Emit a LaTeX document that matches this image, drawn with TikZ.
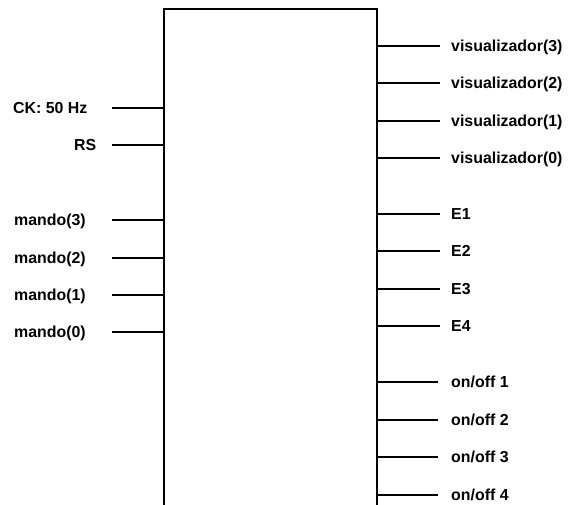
\documentclass[tikz,border=0pt]{standalone}
\usepackage{fontspec}
\setmainfont{Liberation Sans}
\begin{document}
\begin{tikzpicture}[x=1pt,y=-1pt,
  pinlabel/.style={inner sep=0pt, anchor=base west, font=\fontsize{15.9}{18}\selectfont\bfseries},
  pinline/.style={line width=2pt},
  blockbox/.style={draw, line width=2.2pt, inner sep=0pt}]
\useasboundingbox (0,0) rectangle (568,504);
% the block: its lower edge lies below the page
\node[blockbox, minimum width=213pt, minimum height=530pt, anchor=north west] (box) at (163,8) {};

% inputs on the left
\foreach \name/\txt/\tx/\y in {ck/{CK: 50 Hz}/13/107.7, rs/RS/74/145,
    m3/mando(3)/14/220, m2/mando(2)/14/258, m1/mando(1)/14/295, m0/mando(0)/14/332}{
  \node[pinlabel] (\name) at (\tx,\y+5.6) {\txt};
  \coordinate (\name-end) at (112,\y);
  \draw[pinline] (\name-end) -- (\name-end -| box.west);
}

% outputs on the right
\foreach \name/\txt/\y/\xe in {v3/visualizador(3)/45.7/440, v2/visualizador(2)/83/440,
    v1/visualizador(1)/120.7/440, v0/visualizador(0)/158/440,
    e1/E1/214/440, e2/E2/251/440, e3/E3/288.7/440, e4/E4/326/440,
    o1/on\slash off 1/382.3/438, o2/on\slash off 2/420/438, o3/on\slash off 3/456.7/438, o4/on\slash off 4/495/438}{
  \node[pinlabel] (\name) at (451,\y+5.6) {\txt};
  \coordinate (\name-end) at (\xe,\y);
  \draw[pinline] (\name-end -| box.east) -- (\name-end);
}
\end{tikzpicture}
\end{document}
